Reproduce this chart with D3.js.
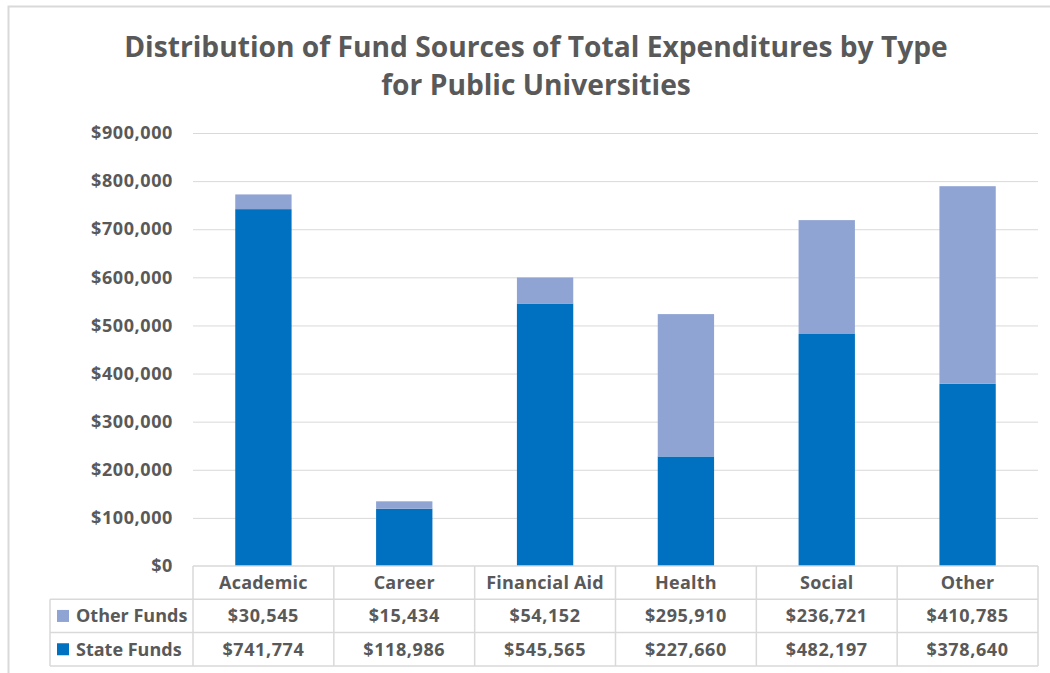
<!DOCTYPE html>
<html>
<head>
<meta charset="utf-8">
<script src="https://cdn.jsdelivr.net/npm/d3@7"></script>
<style>
  html, body { margin: 0; padding: 0; background: #fff; }
  svg { display: block; }
  text { font-family: "Open Sans", Lato, sans-serif; font-weight: bold; fill: #595959; }
</style>
</head>
<body>
<svg id="chart" width="1050" height="673"></svg>
<script>
const titleLines = ["Distribution of Fund Sources of Total Expenditures by Type", "for Public Universities"];
const categories = ["Academic", "Career", "Financial Aid", "Health", "Social", "Other"];
const stateFunds = [741774, 118986, 545565, 227660, 482197, 378640];
const otherFunds = [30545, 15434, 54152, 295910, 236721, 410785];
const seriesNames = ["Other Funds", "State Funds"];
const yTicks = [0, 100000, 200000, 300000, 400000, 500000, 600000, 700000, 800000, 900000];

const colors = { "State Funds": "#0070C0", "Other Funds": "#8FA4D3" };
const grid = "#d9d9d9";
const FS = "18px";
const LS_NUM = "0.6px";
const LS_TXT = "0.2px";

const svg = d3.select("#chart");
const W = 1050, H = 673;

// chart border
svg.append("rect").attr("x", 8.5).attr("y", 6.5).attr("width", W + 10).attr("height", H + 10)
  .attr("fill", "none").attr("stroke", grid).attr("stroke-width", 2);

const plot = { left: 193, right: 1038, top: 133, bottom: 566 };

const x = d3.scaleBand().domain(categories).range([plot.left, plot.right]).paddingInner(0.6).paddingOuter(0.3);
const xCell = d3.scaleBand().domain(categories).range([plot.left, plot.right]);
const y = d3.scaleLinear().domain([0, 900000]).range([plot.bottom, plot.top]);

// title
const title = svg.append("text").attr("text-anchor", "middle").style("font-size", "28.2px");
titleLines.forEach((t, i) => {
  title.append("tspan").attr("x", 536).attr("y", 57 + i * 38).text(t);
});

// gridlines
svg.append("g").selectAll("line").data(yTicks.filter(d => d > 0)).join("line")
  .attr("x1", plot.left).attr("x2", plot.right)
  .attr("y1", d => y(d) + 0.5).attr("y2", d => y(d) + 0.5)
  .attr("stroke", grid).attr("stroke-width", 1);

// y axis labels
const fmt = d => "$" + d3.format(",")(d);
const yAxis = d3.axisLeft(y).tickValues(yTicks).tickFormat(fmt).tickSize(0).tickPadding(20);
const ya = svg.append("g").attr("transform", `translate(${plot.left},0)`).call(yAxis);
ya.select(".domain").remove();
ya.selectAll("text").style("font-size", FS).attr("fill", "#595959")
  .style("font-family", "'Open Sans', Lato, sans-serif").style("font-weight", "bold")
  .style("letter-spacing", LS_NUM);

// stacked bars
const rows = categories.map((c, i) => ({ cat: c, "State Funds": stateFunds[i], "Other Funds": otherFunds[i] }));
const stack = d3.stack().keys(["State Funds", "Other Funds"])(rows);
svg.append("g").selectAll("g").data(stack).join("g")
  .attr("fill", d => colors[d.key])
  .selectAll("rect").data(d => d).join("rect")
  .attr("x", d => x(d.data.cat))
  .attr("width", x.bandwidth())
  .attr("y", d => y(d[1]))
  .attr("height", d => y(d[0]) - y(d[1]));

// data table
const rowH = 33.3;
const tableLeft = 50;
const t = svg.append("g");
const lineAttr = sel => sel.attr("stroke", grid).attr("stroke-width", 1.5).attr("fill", "none");

t.append("line").attr("x1", plot.left).attr("x2", plot.right).attr("y1", plot.bottom).attr("y2", plot.bottom).call(lineAttr);
[1, 2, 3].forEach(k => {
  t.append("line").attr("x1", tableLeft).attr("x2", plot.right)
    .attr("y1", plot.bottom + k * rowH).attr("y2", plot.bottom + k * rowH).call(lineAttr);
});
t.append("line").attr("x1", tableLeft).attr("x2", tableLeft)
  .attr("y1", plot.bottom + rowH).attr("y2", plot.bottom + 3 * rowH).call(lineAttr);
categories.forEach(c => {
  t.append("line").attr("x1", xCell(c)).attr("x2", xCell(c))
    .attr("y1", plot.bottom).attr("y2", plot.bottom + 3 * rowH).call(lineAttr);
});
t.append("line").attr("x1", plot.right).attr("x2", plot.right)
  .attr("y1", plot.bottom).attr("y2", plot.bottom + 3 * rowH).call(lineAttr);

// header labels
t.selectAll("text.cat").data(categories).join("text").attr("class", "cat")
  .attr("x", c => xCell(c) + xCell.bandwidth() / 2)
  .attr("y", plot.bottom + rowH / 2).attr("dy", "0.36em")
  .attr("text-anchor", "middle").style("font-size", FS).style("letter-spacing", LS_TXT).text(c => c);

// series rows
const seriesVals = { "Other Funds": otherFunds, "State Funds": stateFunds };
seriesNames.forEach((s, r) => {
  const cy = plot.bottom + (r + 1.5) * rowH;
  t.append("rect").attr("x", 57).attr("y", cy - 6).attr("width", 12).attr("height", 12).attr("fill", colors[s]);
  t.append("text").attr("x", 76).attr("y", cy).attr("dy", "0.36em").style("font-size", FS)
    .style("letter-spacing", "0px").text(s);
  t.selectAll(null).data(categories).join("text")
    .attr("x", c => xCell(c) + xCell.bandwidth() / 2)
    .attr("y", cy).attr("dy", "0.36em")
    .attr("text-anchor", "middle").style("font-size", FS).style("letter-spacing", LS_NUM)
    .text((c, i) => fmt(seriesVals[s][i]));
});
</script>
</body>
</html>
